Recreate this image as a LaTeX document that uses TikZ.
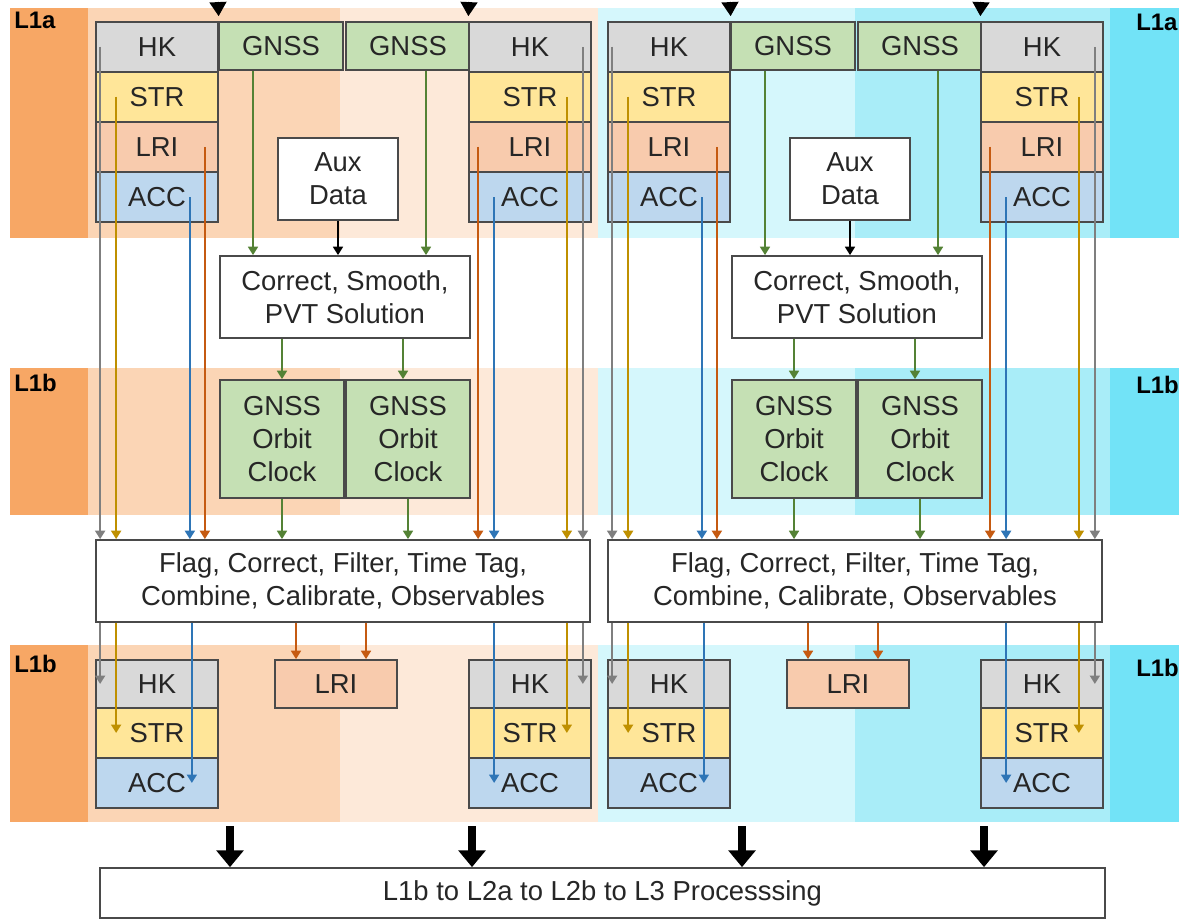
\documentclass[tikz,border=0pt]{standalone}
\usepackage{fontspec}
\setmainfont{Liberation Sans}
\usetikzlibrary{arrows.meta}

\definecolor{boxline}{HTML}{4A4A4A}
\definecolor{txt}{HTML}{262626}
\definecolor{hkfill}{HTML}{D9D9D9}
\definecolor{strfill}{HTML}{FFE699}
\definecolor{lrifill}{HTML}{F8CBAD}
\definecolor{accfill}{HTML}{BDD7EE}
\definecolor{gnfill}{HTML}{C5E0B4}
\definecolor{hkline}{HTML}{7F7F7F}
\definecolor{strline}{HTML}{BF9000}
\definecolor{lriline}{HTML}{C55A11}
\definecolor{accline}{HTML}{2E75B6}
\definecolor{gnline}{HTML}{548235}
\definecolor{orgcol}{HTML}{F7A765}
\definecolor{orgmid}{HTML}{FBD5B5}
\definecolor{orglt}{HTML}{FDE9D9}
\definecolor{cyanlt}{HTML}{D5F7FC}
\definecolor{cyanmid}{HTML}{A9EDF8}
\definecolor{cyancol}{HTML}{72E3F7}

\newcommand{\diagfont}{\fontsize{19.5}{23.5}\selectfont}
\newcommand{\px}{0.025cm}

\tikzset{
  box/.style={draw=boxline, line width=1.2pt, inner sep=0pt, font=\diagfont, text=txt, align=center},
  stk/.style={box, minimum width=3.05cm, minimum height=1.25cm},
  hk/.style={stk, fill=hkfill},
  str/.style={stk, fill=strfill},
  lri/.style={stk, fill=lrifill},
  acc/.style={stk, fill=accfill},
  gnss/.style={box, fill=gnfill, minimum width=3.1cm, minimum height=1.2cm},
  orbit/.style={box, fill=gnfill, minimum width=3.1cm, minimum height=2.95cm},
  plain/.style={box, fill=white, minimum height=2.05cm},
  lvl/.style={font=\fontsize{17}{20}\selectfont\bfseries, text=black, inner sep=0pt},
  flow/.style={line width=1.5pt, -{Triangle[width=7pt,length=6pt]}},
  hkarr/.style={flow, draw=hkline, fill=hkline},
  strarr/.style={flow, draw=strline, fill=strline},
  lriarr/.style={flow, draw=lriline, fill=lriline},
  accarr/.style={flow, draw=accline, fill=accline},
  gnarr/.style={flow, draw=gnline, fill=gnline},
  blkarr/.style={flow, draw=black, fill=black},
  topin/.style={line width=1.2pt, shorten >=0.125cm, -{Triangle[width=12pt,length=10pt]}},
  bigarr/.style={line width=5pt, -{Triangle[width=19pt,length=12pt]}}
}

\begin{document}
\begin{tikzpicture}[x=0.025cm,y=-0.025cm]
  \path[use as bounding box] (0,0) rectangle (1179,920);
  \clip (0,0) rectangle (1179,920);

  % level bands
  \foreach \ya/\yb in {8/238,368/515,645/822} {
    \fill[orgcol] (10,\ya) rectangle (88,\yb);
    \fill[orgmid] (88,\ya) rectangle (340,\yb);
    \fill[orglt] (340,\ya) rectangle (598,\yb);
    \fill[cyanlt] (598,\ya) rectangle (855,\yb);
    \fill[cyanmid] (855,\ya) rectangle (1110,\yb);
    \fill[cyancol] (1110,\ya) rectangle (1179,\yb);
  }

  \node[lvl, anchor=west] (l1al) at (14,20) {L1a};
  \node[lvl, anchor=west] (l1bl) at (14,383) {L1b};
  \node[lvl, anchor=west] (l1cl) at (14,664) {L1b};
  \node[lvl, anchor=west] (l1ar) at (1136,22) {L1a};
  \node[lvl, anchor=west] (l1br) at (1136,385) {L1b};
  \node[lvl, anchor=west] (l1cr) at (1136,668) {L1b};

  \node[box, fill=white, minimum width=25.125cm, minimum height=1.25cm] (final) at (602.5,893)
    {L1b to L2a to L2b to L3 Processsing};

  \foreach \dx/\s in {0/l,512/r} {
    % L1a
    \node[hk] (hkA\s) at (\dx+157,47) {HK};
    \node[str] (strA\s) at (\dx+157,97) {STR};
    \node[lri] (lriA\s) at (\dx+157,147) {LRI};
    \node[acc] (accA\s) at (\dx+157,197) {ACC};
    \node[gnss] (gnA\s) at (\dx+281,46) {GNSS};
    \node[gnss] (gnB\s) at (\dx+408,46) {GNSS};
    \node[hk] (hkB\s) at (\dx+530,47) {HK};
    \node[str] (strB\s) at (\dx+530,97) {STR};
    \node[lri] (lriB\s) at (\dx+530,147) {LRI};
    \node[acc] (accB\s) at (\dx+530,197) {ACC};
    \node[plain, minimum width=3cm] (aux\s) at (\dx+338,179) {Aux\\Data};
    \node[plain, minimum width=6.25cm] (pvt\s) at (\dx+345,297) {Correct, Smooth,\\PVT Solution};
    % L1b
    \node[orbit] (orbA\s) at (\dx+282,439) {GNSS\\Orbit\\Clock};
    \node[orbit] (orbB\s) at (\dx+408,439) {GNSS\\Orbit\\Clock};
    \node[plain, minimum width=12.35cm] (flag\s) at (\dx+343,581)
      {Flag, Correct, Filter, Time Tag,\\Combine, Calibrate, Observables};
    \node[lri, minimum height=1.2cm] (lriO\s) at (\dx+336,684) {LRI};
    \node[hk, minimum height=1.2cm] (hkC\s) at (\dx+157,684) {HK};
    \node[str] (strC\s) at (\dx+157,733) {STR};
    \node[acc] (accC\s) at (\dx+157,783) {ACC};
    \node[hk, minimum height=1.2cm] (hkD\s) at (\dx+530,684) {HK};
    \node[str] (strD\s) at (\dx+530,733) {STR};
    \node[acc] (accD\s) at (\dx+530,783) {ACC};

    % inputs from above
    \coordinate (inA\s) at (\dx+218,2);
    \coordinate (inB\s) at (\dx+469,2);
    \draw[topin] (inA\s) -- (hkA\s.north east);
    \draw[topin] (inB\s) -- (hkB\s.north west);

    % L1a to processing
    \draw[hkarr] ([xshift=5*\px]hkA\s.west) -- ([xshift=5*\px]hkA\s.west |- flag\s.north);
    \draw[strarr] ([xshift=21*\px]strA\s.west) -- ([xshift=21*\px]strA\s.west |- flag\s.north);
    \draw[accarr] ([xshift=-29*\px]accA\s.east) -- ([xshift=-29*\px]accA\s.east |- flag\s.north);
    \draw[lriarr] ([xshift=-14*\px]lriA\s.east) -- ([xshift=-14*\px]lriA\s.east |- flag\s.north);
    \draw[lriarr] ([xshift=10*\px]lriB\s.west) -- ([xshift=10*\px]lriB\s.west |- flag\s.north);
    \draw[accarr] ([xshift=26*\px]accB\s.west) -- ([xshift=26*\px]accB\s.west |- flag\s.north);
    \draw[strarr] ([xshift=-25*\px]strB\s.east) -- ([xshift=-25*\px]strB\s.east |- flag\s.north);
    \draw[hkarr] ([xshift=-9*\px]hkB\s.east) -- ([xshift=-9*\px]hkB\s.east |- flag\s.north);

    % GNSS chain
    \draw[gnarr] ([xshift=-28*\px]gnA\s.south) -- ([xshift=-28*\px]gnA\s.south |- pvt\s.north);
    \draw[gnarr] ([xshift=18*\px]gnB\s.south) -- ([xshift=18*\px]gnB\s.south |- pvt\s.north);
    \draw[blkarr] (aux\s.south) -- (aux\s.south |- pvt\s.north);
    \draw[gnarr] (orbA\s.north |- pvt\s.south) -- (orbA\s.north);
    \draw[gnarr] ([xshift=-5*\px]orbB\s.north |- pvt\s.south) -- ([xshift=-5*\px]orbB\s.north);
    \draw[gnarr] (orbA\s.south) -- (orbA\s.south |- flag\s.north);
    \draw[gnarr] (orbB\s.south) -- (orbB\s.south |- flag\s.north);

    % processing to L1b
    \draw[hkarr] ([xshift=5*\px]hkC\s.west |- flag\s.south) -- ([xshift=5*\px]hkC\s.west);
    \draw[strarr] ([xshift=21*\px]strC\s.west |- flag\s.south) -- ([xshift=21*\px]strC\s.west);
    \draw[accarr] ([xshift=-27*\px]accC\s.east |- flag\s.south) -- ([xshift=-27*\px]accC\s.east);
    \draw[lriarr] ([xshift=-40*\px]lriO\s.north |- flag\s.south) -- ([xshift=-40*\px]lriO\s.north);
    \draw[lriarr] ([xshift=30*\px]lriO\s.north |- flag\s.south) -- ([xshift=30*\px]lriO\s.north);
    \draw[accarr] ([xshift=26*\px]accD\s.west |- flag\s.south) -- ([xshift=26*\px]accD\s.west);
    \draw[strarr] ([xshift=-25*\px]strD\s.east |- flag\s.south) -- ([xshift=-25*\px]strD\s.east);
    \draw[hkarr] ([xshift=-9*\px]hkD\s.east |- flag\s.south) -- ([xshift=-9*\px]hkD\s.east);

    % to L2 processing
    \coordinate (outA\s) at (\dx+230,826);
    \coordinate (outB\s) at (\dx+472,826);
    \draw[bigarr] (outA\s) -- (outA\s |- final.north);
    \draw[bigarr] (outB\s) -- (outB\s |- final.north);
  }
\end{tikzpicture}
\end{document}
